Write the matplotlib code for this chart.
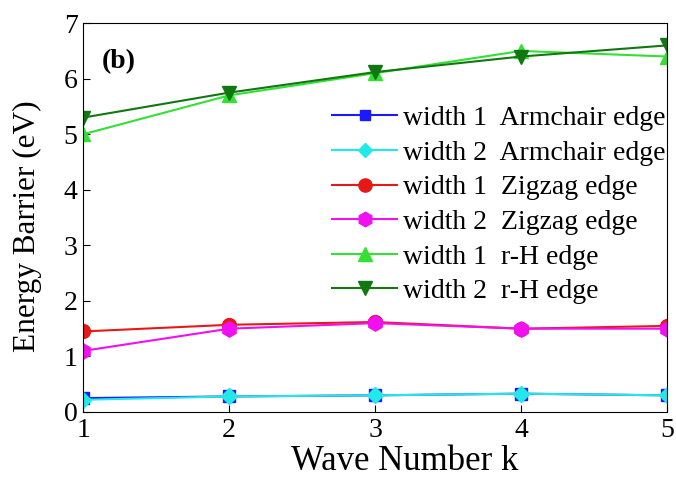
import matplotlib
matplotlib.use('Agg')
import matplotlib.pyplot as plt

plt.rcParams['font.family'] = ['Liberation Serif', 'DejaVu Serif']

k = [1, 2, 3, 4, 5]
w1_armchair = [0.25, 0.28, 0.30, 0.33, 0.30]
w2_armchair = [0.22, 0.28, 0.30, 0.33, 0.30]
w1_zigzag = [1.45, 1.57, 1.62, 1.50, 1.55]
w2_zigzag = [1.10, 1.50, 1.60, 1.50, 1.50]
w1_rh = [5.00, 5.70, 6.10, 6.50, 6.40]
w2_rh = [5.30, 5.75, 6.12, 6.40, 6.60]

fig = plt.figure(figsize=(6.76, 4.83), dpi=100)
ax = fig.add_axes([0.123, 0.147, 0.864, 0.805])

ax.plot(k, w1_armchair, color='#1a1aff', marker='s', ms=8, lw=1.5, label='width 1  Armchair edge')
ax.plot(k, w2_armchair, color='#22e8e8', marker='D', ms=8, lw=1.5, label='width 2  Armchair edge')
ax.plot(k, w1_zigzag, color='#e81818', marker='o', ms=10, lw=1.5, label='width 1  Zigzag edge')
ax.plot(k, w2_zigzag, color='#f010f0', marker='h', ms=11, lw=1.5, label='width 2  Zigzag edge')
ax.plot(k, w1_rh, color='#33e033', marker='^', ms=10, lw=1.5, label='width 1  r-H edge')
ax.plot(k, w2_rh, color='#117711', marker='v', ms=10, lw=1.5, label='width 2  r-H edge')

ax.set_xlim(1, 5)
ax.set_ylim(0, 7)
ax.set_xticks(k)
ax.set_yticks(range(0, 8))
ax.tick_params(direction='in', labelsize=20, length=5, pad=4)
ax.set_xlabel('Wave Number k', fontsize=25)
ax.xaxis.set_label_coords(0.55, -0.085)
ax.set_ylabel('Energy Barrier (eV)', fontsize=22.5)
ax.yaxis.set_label_coords(-0.07, 0.477)
ax.text(0.031, 0.885, '(b)', transform=ax.transAxes, fontsize=20, fontweight='bold',
        va='baseline')

ax.legend(loc='upper right', bbox_to_anchor=(0.997, 0.788), frameon=False, fontsize=20,
          handlelength=2.35, handletextpad=0.2, labelspacing=0.33, borderaxespad=0,
          borderpad=0, markerscale=0.95)

plt.savefig('out.png', dpi=100)
